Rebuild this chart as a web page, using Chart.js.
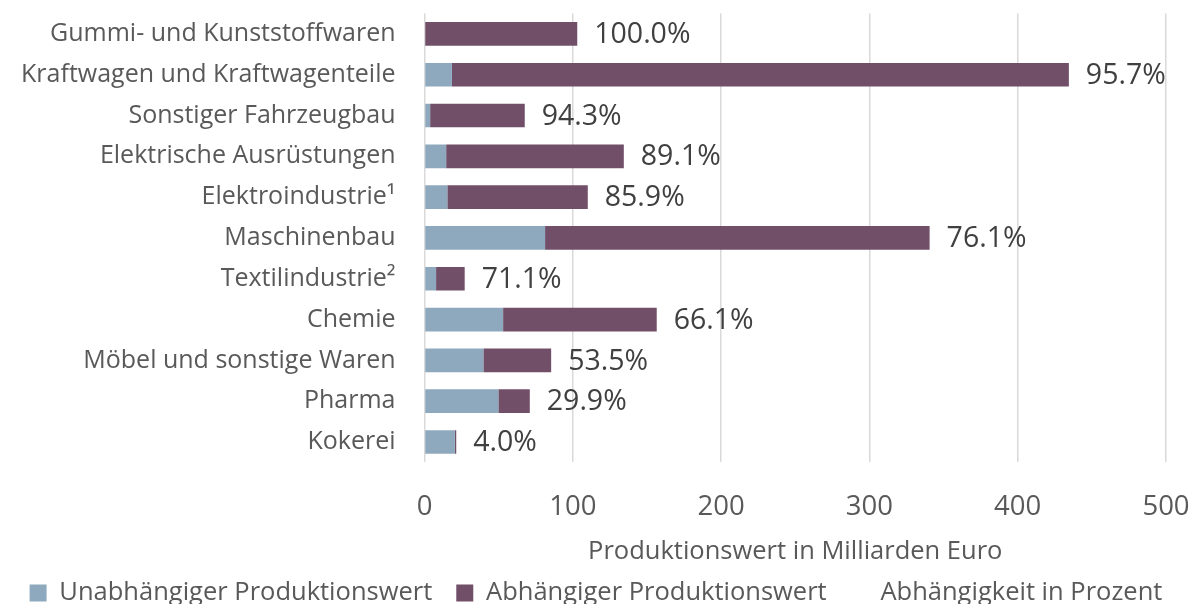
<!DOCTYPE html>
<html lang="de">
<head>
<meta charset="utf-8">
<title>Produktionswert</title>
<script src="https://cdn.jsdelivr.net/npm/chart.js@4.4.1/dist/chart.umd.min.js"></script>
<style>
    html, body { margin: 0; padding: 0; background: #fff; }
    #wrap { width: 1192px; height: 604px; }
</style>
</head>
<body>
<div id="wrap"><canvas id="chart"></canvas></div>
<script>
const branchen = [
    'Gummi- und Kunststoffwaren',
    'Kraftwagen und Kraftwagenteile',
    'Sonstiger Fahrzeugbau',
    'Elektrische Ausrüstungen',
    'Elektroindustrie¹',
    'Maschinenbau',
    'Textilindustrie²',
    'Chemie',
    'Möbel und sonstige Waren',
    'Pharma',
    'Kokerei'
];
// Milliarden Euro
const unabhaengig = [0, 18.5, 3.8, 14.6, 15.4, 81.3, 7.8, 53.0, 39.7, 49.8, 20.5];
const abhaengig = [103.0, 416.0, 63.8, 119.8, 94.7, 259.3, 19.3, 103.6, 45.7, 21.2, 0.9];
// Abhängigkeit in Prozent
const prozent = [100.0, 95.7, 94.3, 89.1, 85.9, 76.1, 71.1, 66.1, 53.5, 29.9, 4.0];
const xTicks = [0, 100, 200, 300, 400, 500];

const FONT = "'Open Sans', 'DejaVu Sans', sans-serif";
const GREY = '#595959';

// percent labels right after the end of each stacked bar
const percentLabels = {
    id: 'percentLabels',
    afterDatasetsDraw(chart) {
        const meta = chart.getDatasetMeta(2);
        const ctx = chart.ctx;
        ctx.save();
        ctx.font = '28.5px ' + FONT;
        ctx.fillStyle = '#404040';
        ctx.textAlign = 'left';
        ctx.textBaseline = 'middle';
        meta.data.forEach((bar, i) => {
            ctx.fillText(prozent[i].toFixed(1) + '%', bar.x + 17, bar.y + 1);
        });
        ctx.restore();
    }
};

new Chart(document.getElementById('chart'), {
    type: 'bar',
    data: {
        labels: branchen,
        datasets: [{
            label: 'Unabhängiger Produktionswert',
            data: unabhaengig,
            backgroundColor: '#8ea9bd'
        }, {
            label: 'Abhängiger Produktionswert',
            data: abhaengig,
            backgroundColor: '#724f69'
        }, {
            label: 'Abhängigkeit in Prozent',
            data: branchen.map(() => 0),
            backgroundColor: 'rgba(0,0,0,0)',
            borderWidth: 0
        }]
    },
    options: {
        indexAxis: 'y',
        responsive: true,
        maintainAspectRatio: false,
        animation: false,
        datasets: { bar: { categoryPercentage: 1, barPercentage: 0.58 } },
        layout: { padding: { top: 13.5, right: 0, bottom: -11.75, left: 0 } },
        plugins: {
            tooltip: { enabled: false },
            legend: {
                position: 'bottom',
                labels: {
                    font: { family: FONT, size: 25.5 },
                    color: GREY,
                    boxWidth: 17,
                    boxHeight: 17,
                    padding: 24
                }
            }
        },
        scales: {
            x: {
                stacked: true,
                min: 0,
                max: 500,
                afterBuildTicks: (scale) => { scale.ticks = xTicks.map(v => ({ value: v })); },
                afterFit: (scale) => {
                    scale.height = 93.85;
                    scale.paddingLeft = 0;
                    scale.paddingRight = 26;
                },
                grid: { color: '#d9d9d9', lineWidth: 1.5, drawTicks: false },
                border: { display: false },
                ticks: { font: { family: FONT, size: 27.5 }, color: GREY, padding: 28 },
                title: {
                    display: true,
                    text: 'Produktionswert in Milliarden Euro',
                    font: { family: FONT, size: 25.5 },
                    color: GREY,
                    padding: { top: 0, bottom: -11 }
                }
            },
            y: {
                stacked: true,
                afterFit: (scale) => {
                    scale.width = 424.5;
                    scale.paddingTop = 0;
                    scale.paddingBottom = 0;
                },
                grid: { display: false, drawTicks: false },
                border: { display: false },
                ticks: { font: { family: FONT, size: 25 }, color: GREY, padding: 29 }
            }
        }
    },
    plugins: [percentLabels]
});
</script>
</body>
</html>
